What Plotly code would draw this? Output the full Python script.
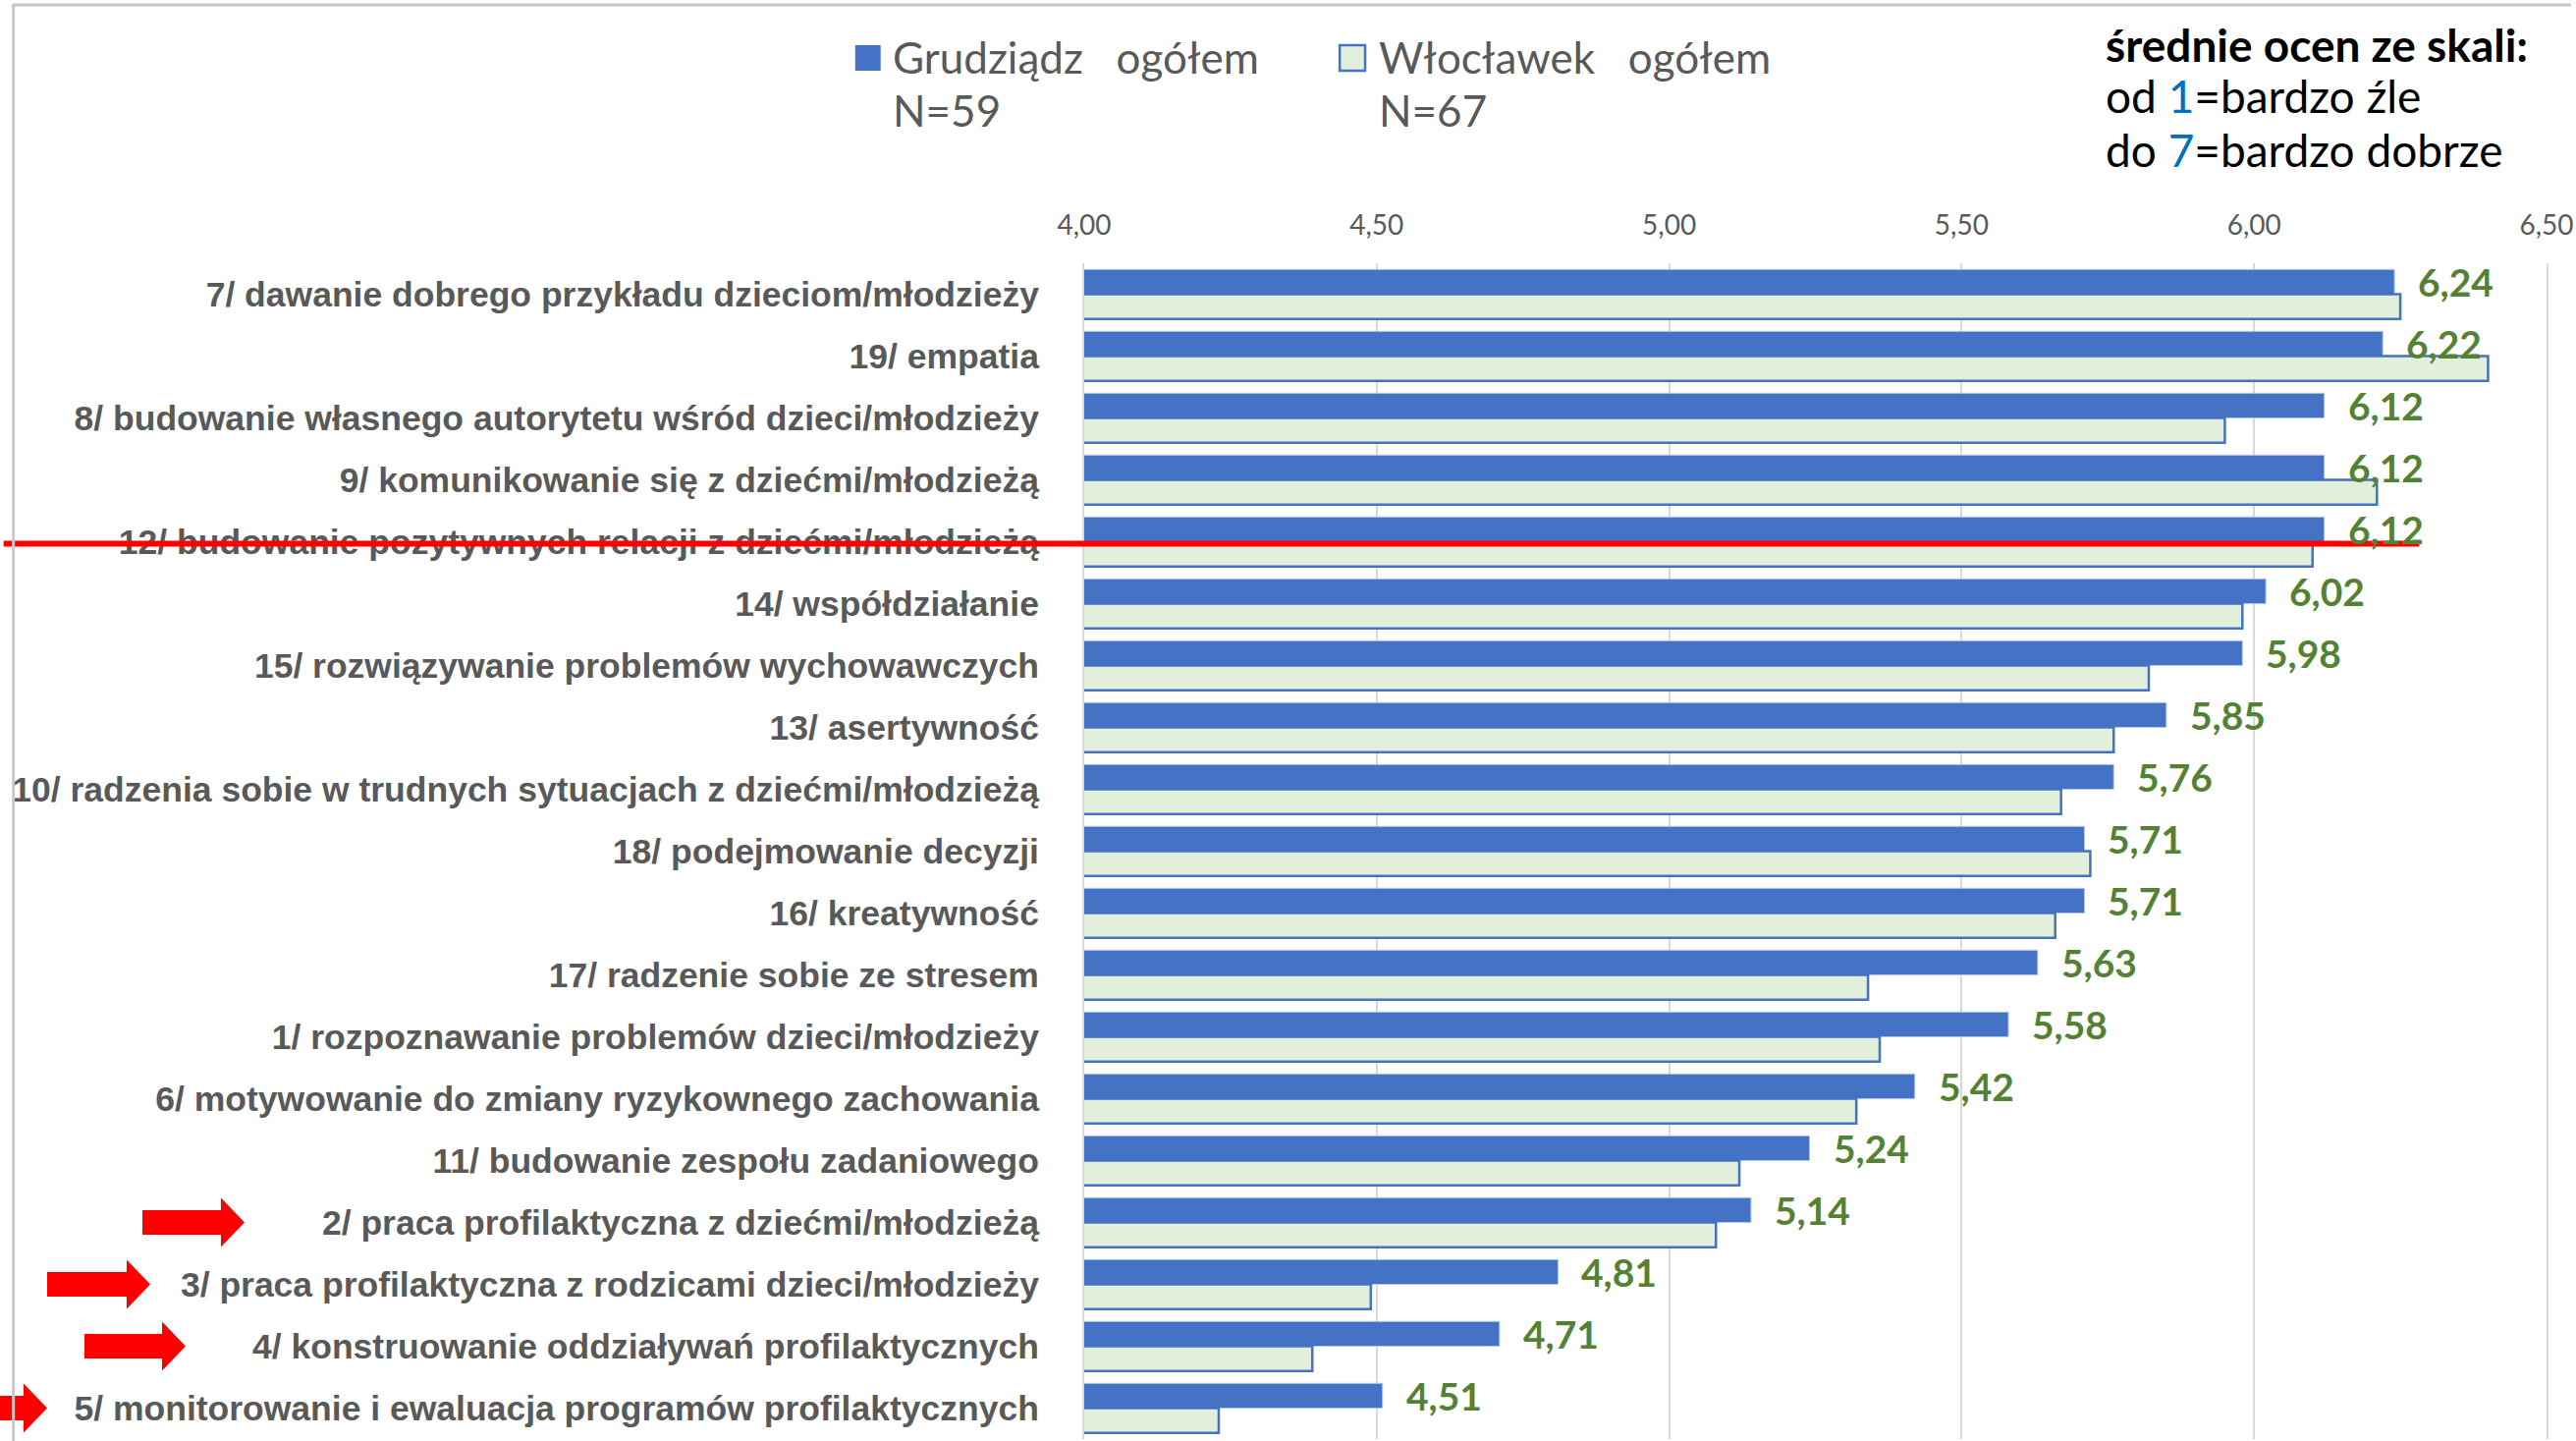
import plotly.graph_objects as go

categories = [
    "7/ dawanie dobrego przykładu dzieciom/młodzieży",
    "19/ empatia",
    "8/ budowanie własnego autorytetu wśród dzieci/młodzieży",
    "9/ komunikowanie się z dziećmi/młodzieżą",
    "12/ budowanie pozytywnych relacji z dziećmi/młodzieżą",
    "14/ współdziałanie",
    "15/ rozwiązywanie problemów wychowawczych",
    "13/ asertywność",
    "10/ radzenia sobie w trudnych sytuacjach z dziećmi/młodzieżą",
    "18/ podejmowanie decyzji",
    "16/ kreatywność",
    "17/ radzenie sobie ze stresem",
    "1/ rozpoznawanie problemów dzieci/młodzieży",
    "6/ motywowanie do zmiany ryzykownego zachowania",
    "11/ budowanie zespołu zadaniowego",
    "2/ praca profilaktyczna z dziećmi/młodzieżą",
    "3/ praca profilaktyczna z rodzicami dzieci/młodzieży",
    "4/ konstruowanie oddziaływań profilaktycznych",
    "5/ monitorowanie i ewaluacja programów profilaktycznych",
]
grudziadz = [6.24, 6.22, 6.12, 6.12, 6.12, 6.02, 5.98, 5.85, 5.76, 5.71, 5.71,
             5.63, 5.58, 5.42, 5.24, 5.14, 4.81, 4.71, 4.51]
wloclawek = [6.25, 6.40, 5.95, 6.21, 6.10, 5.98, 5.82, 5.76, 5.67, 5.72, 5.66,
             5.34, 5.36, 5.32, 5.12, 5.08, 4.49, 4.39, 4.23]
series_names = ["Grudziądz  ogółem", "Włocławek  ogółem"]
series_n = ["N=59", "N=67"]
x_ticks = [4.0, 4.5, 5.0, 5.5, 6.0, 6.5]
highlight_row = "12/ budowanie pozytywnych relacji z dziećmi/młodzieżą"
arrow_rows = [
    "2/ praca profilaktyczna z dziećmi/młodzieżą",
    "3/ praca profilaktyczna z rodzicami dzieci/młodzieży",
    "4/ konstruowanie oddziaływań profilaktycznych",
    "5/ monitorowanie i ewaluacja programów profilaktycznych",
]

W, H = 2623, 1467
ML, MR, MT, MB = 1104, 25, 268, 2
PW = W - ML - MR
PH = H - MT - MB

def px_x(X):
    return (X - ML) / PW

def px_y(Y):
    return (H - MB - Y) / PH

BLUE = "#4472C4"
LIGHT = "#E2EFDA"
GREEN = "#548235"
GRAY = "#595959"

fig = go.Figure()
fig.add_trace(go.Bar(
    y=categories, x=grudziadz, orientation="h", name=series_names[0],
    marker=dict(color=BLUE, line=dict(color="#B4C7E7", width=1)),
))
fig.add_trace(go.Bar(
    y=categories, x=wloclawek, orientation="h", name=series_names[1],
    marker=dict(color=LIGHT, line=dict(color=BLUE, width=2.5)),
))

annotations = []
for cat, v in zip(categories, grudziadz):
    annotations.append(dict(
        x=v, y=cat, xref="x", yref="y", text=f"{v:.2f}".replace(".", ","),
        showarrow=False, xanchor="left", yanchor="middle", xshift=22, yshift=13,
        font=dict(family="Lato", size=39, color=GREEN, weight="bold"),
    ))

# legend (custom)
leg_sq_x = [870, 1365]
leg_tx_x = [906, 1403]
shapes = []
for i in range(2):
    shapes.append(dict(
        type="rect", xref="paper", yref="paper",
        x0=px_x(leg_sq_x[i]), x1=px_x(leg_sq_x[i] + 26),
        y0=px_y(72), y1=px_y(46),
        fillcolor=BLUE if i == 0 else LIGHT,
        line=dict(color=BLUE, width=2.5 if i == 1 else 0),
    ))
    annotations.append(dict(
        x=px_x(leg_tx_x[i]), y=px_y(58), xref="paper", yref="paper",
        text=series_names[i].replace("  ", "&nbsp;&nbsp; "), showarrow=False,
        xanchor="left", yanchor="middle",
        font=dict(family="Lato", size=44, color=GRAY),
    ))
    annotations.append(dict(
        x=px_x(leg_tx_x[i]), y=px_y(112), xref="paper", yref="paper",
        text=series_n[i], showarrow=False, xanchor="left", yanchor="middle",
        font=dict(family="Lato", size=44, color=GRAY),
    ))

# scale note
note_lines = [
    ("<b>średnie ocen ze skali:</b>", 45),
    ("od <span style='color:#0070C0'>1</span>=bardzo źle", 98),
    ("do <span style='color:#0070C0'>7</span>=bardzo dobrze", 152),
]
for txt, yy in note_lines:
    annotations.append(dict(
        x=px_x(2145), y=px_y(yy), xref="paper", yref="paper", text=txt,
        showarrow=False, xanchor="left", yanchor="middle",
        font=dict(family="Lato", size=46, color="#000000"),
    ))

# red line on highlighted row
shapes.append(dict(
    type="line", xref="paper", yref="y", ysizemode="pixel", yanchor=highlight_row,
    x0=px_x(0), x1=px_x(2468), y0=-2, y1=-2,
    line=dict(color="#FF0000", width=6),
))

# red arrows (pixel offsets from plot left edge)
arrow_geom = [(-959, -879, -855), (-1056, -975, -951), (-1018, -939, -915), (-1200, -1080, -1056)]
for row, (xs, xb, xt) in zip(arrow_rows, arrow_geom):
    path = (f"M {xs} -12.5 L {xb} -12.5 L {xb} -25 L {xt} 0 L {xb} 25 "
            f"L {xb} 12.5 L {xs} 12.5 Z")
    shapes.append(dict(
        type="path", xref="paper", yref="y", xsizemode="pixel", ysizemode="pixel",
        xanchor=0, yanchor=row, path=path,
        fillcolor="#FF0000", line=dict(width=0),
    ))

# image border (top and left)
shapes.append(dict(type="line", xref="paper", yref="paper",
                   x0=px_x(9), x1=px_x(W), y0=px_y(5), y1=px_y(5),
                   line=dict(color="#C8C8C8", width=3)))
shapes.append(dict(type="line", xref="paper", yref="paper",
                   x0=px_x(10), x1=px_x(10), y0=px_y(4), y1=px_y(H),
                   line=dict(color="#C8C8C8", width=3)))

fig.update_layout(
    width=W, height=H,
    margin=dict(l=ML, r=MR, t=MT, b=MB, pad=0),
    plot_bgcolor="white", paper_bgcolor="white",
    barmode="group", bargap=0.2, bargroupgap=0,
    showlegend=False,
    separators=", ",
    annotations=annotations,
    shapes=shapes,
    xaxis=dict(
        side="top", range=[4, 6.5], tickvals=x_ticks, tickformat=".2f",
        showgrid=True, gridcolor="#D9D9D9", gridwidth=2,
        zeroline=False, showline=False, ticks="",
        tickfont=dict(family="Lato", size=28, color=GRAY),
        ticklabelstandoff=22, ticklabeloverflow="allow",
    ),
    yaxis=dict(
        type="category", categoryorder="array", categoryarray=categories,
        range=[len(categories) - 0.5, -0.5], autorange=False,
        showgrid=False, zeroline=False,
        showline=True, mirror=True, linecolor="#D9D9D9", linewidth=2, ticks="",
        tickfont=dict(family="Liberation Sans", size=35.5, color=GRAY, weight="bold"),
        ticklabelstandoff=37,
    ),
)

fig.write_html(
    "out.html",
    config={"displayModeBar": False},
    post_script="document.body.style.margin='0';document.body.style.overflow='hidden';",
)
